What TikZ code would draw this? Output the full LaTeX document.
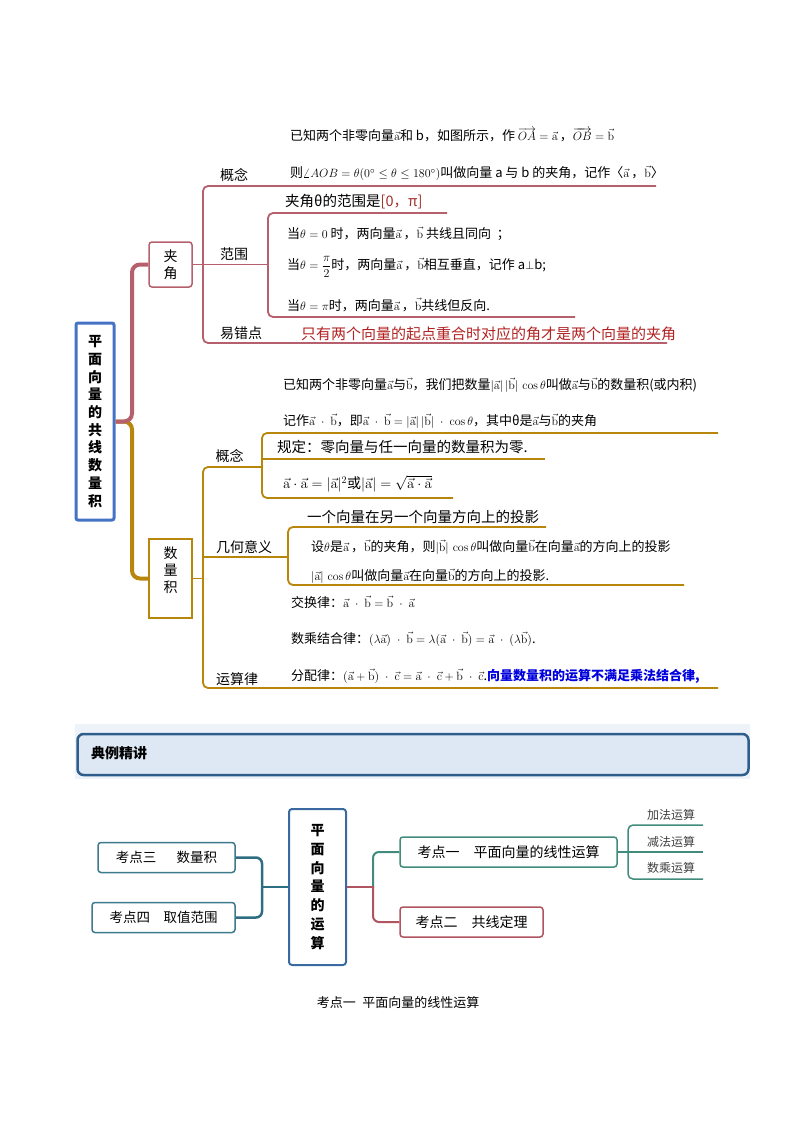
\documentclass[tikz,border=0pt]{standalone}
\usepackage{amsmath}
\usepackage[no-math]{fontspec}
\setmainfont{Noto Sans CJK SC}
\usetikzlibrary{positioning}

\definecolor{mappink}{HTML}{B5606C}
\definecolor{mapgold}{HTML}{B8860B}
\definecolor{rootblue}{HTML}{4472C4}
\definecolor{tipred}{HTML}{B22222}
\definecolor{rangered}{HTML}{A0302A}
\definecolor{textblue}{HTML}{0000DD}
\definecolor{bandline}{HTML}{2F5E8C}
\definecolor{bandfill}{HTML}{DDE8F4}
\definecolor{bandfade}{HTML}{EEF3F9}
\definecolor{cboxblue}{HTML}{3B6AA0}
\definecolor{leftteal}{HTML}{2E6E82}
\definecolor{boxteal}{HTML}{3D7A8C}
\definecolor{kgreen}{HTML}{418C7C}
\definecolor{kred}{HTML}{B05560}

\newcommand{\veca}{\vec{\mathrm{a}}}
\newcommand{\vecb}{\vec{\mathrm{b}}}
\newcommand{\vecc}{\vec{\mathrm{c}}}
\newcommand{\wdot}{\mathbin{\;\cdot\;}}

\begin{document}
\begin{tikzpicture}
  [x=1pt,y=-1pt,
  lbl/.style={font=\fontsize{14}{16}\selectfont},
  txt/.style={anchor=west,inner sep=0pt,font=\fontsize{13}{15}\selectfont},
  bigtxt/.style={anchor=west,inner sep=0pt,font=\fontsize{14.5}{16}\selectfont},
  pinkbr/.style={draw=mappink,line width=1.8pt,rounded corners=5pt},
  goldbr/.style={draw=mapgold,line width=1.8pt,rounded corners=5pt},
  pinkmain/.style={draw=mappink,line width=4pt,rounded corners=8pt},
  goldmain/.style={draw=mapgold,line width=4pt,rounded corners=8pt},
  topic/.style={draw,fill=white,line width=1.5pt,align=center,inner sep=0pt},
  kbox/.style={draw,fill=white,line width=1.5pt,rounded corners=3pt,minimum height=30pt,inner sep=0pt,font=\fontsize{14}{16}\selectfont},
  subop/.style={font=\fontsize{12}{14}\selectfont,text=black!75}]

  \useasboundingbox (0,0) rectangle (794,1123);

  % upper map
  \node[topic,draw=rootblue,line width=3pt,rounded corners=2pt,minimum width=38pt,minimum height=197pt,
    font=\fontsize{14}{17.7}\selectfont\bfseries] (root) at (95,421.5)
    {平\\面\\向\\量\\的\\共\\线\\数\\量\\积};
  \node[topic,draw=mappink,rounded corners=3pt,minimum width=43pt,minimum height=45pt,
    font=\fontsize{14}{16.5}\selectfont] (jiaj) at (170.5,264.5) {夹\\角};
  \node[topic,draw=mapgold,minimum width=43pt,minimum height=79pt] (slj) at (170.5,578.5) {};
  \node[align=center,inner sep=0pt,font=\fontsize{14}{17}\selectfont] (sljtext) at (170.5,570) {数\\量\\积};

  \draw[goldmain] (root.east) -| (132,578.5) -- (slj.west);
  \draw[pinkmain] (root.east) -| (132,264.5) -- (jiaj.west);

  \draw[pinkbr] (656,186) -| (203,343) -- (667,343);
  \draw[pinkbr] (jiaj.east) -- (268,264.5);
  \draw[pinkbr] (447,213) -| (268,317) -- (575,317);

  \node[lbl] (gn1) at (234,175) {概念};
  \node[lbl] (fw) at (234,254) {范围};
  \node[lbl] (ycd) at (241,333) {易错点};

  \node[txt] (t1) at (290,135) {已知两个非零向量$\veca$和 b，如图所示，作 $\overrightarrow{OA}=\veca$\,，$\overrightarrow{OB}=\vecb$};
  \node[txt] (t2) at (290,173) {则$\angle AOB=\theta(0^\circ\leq\theta\leq180^\circ)$叫做向量 a 与 b 的夹角，记作〈$\veca$\,，$\vecb$〉};
  \node[bigtxt] (t3) at (285,202) {夹角θ的范围是\textcolor{rangered}{[0，π]}};
  \node[txt] (t4) at (287,234) {当$\theta=0$ 时，两向量$\veca$\,，$\vecb$ 共线且同向\ \ ；};
  \node[txt] (t5) at (287,267) {当$\theta=\dfrac{\pi}{2}$时，两向量$\veca$\,，$\vecb$相互垂直，记作 a$\perp$b;};
  \node[txt] (t6) at (287,305) {当$\theta=\pi$时，两向量$\veca$\,，$\vecb$共线但反向.};
  \node[bigtxt,text=tipred,font=\fontsize{15}{17}\selectfont] (t7) at (301,334) {只有两个向量的起点重合时对应的角才是两个向量的夹角};

  \draw[goldbr] (262,467) -| (203,688) -- (718,688);
  \draw[goldbr] (slj.east) -- (203,578.5);
  \draw[goldbr] (203,557) -- (288,557);
  \draw[goldbr] (718,433) -| (262,498) -- (453,498);
  \draw[goldbr] (262,459) -- (545,459);
  \draw[goldbr] (546,527) -| (288,585) -- (684,585);

  \node[lbl] (gn2) at (229.5,456) {概念};
  \node[lbl] (jhyy) at (244,547) {几何意义};
  \node[lbl] (ysl) at (237,679) {运算律};

  \node[txt] (t8) at (283,385) {已知两个非零向量$\veca$与$\vecb$，我们把数量$|\veca|\,|\vecb|\,\cos\theta$叫做$\veca$与$\vecb$的数量积(或内积)};
  \node[txt] (t9) at (283,421) {记作$\veca\wdot\vecb$，即$\veca\wdot\vecb=|\veca|\,|\vecb|\wdot\cos\theta$，其中θ是$\veca$与$\vecb$的夹角};
  \node[bigtxt] (t10) at (277,447) {规定：零向量与任一向量的数量积为零.};
  \node[txt,font=\fontsize{14}{16}\selectfont] (t11) at (283,484) {$\veca\cdot\veca=|\veca|^2$或$|\veca|=\sqrt{\veca\cdot\veca}$};
  \node[bigtxt] (t12) at (307,517) {一个向量在另一个向量方向上的投影};
  \node[txt] (t13) at (311,547) {设$\theta$是$\veca$\,，$\vecb$的夹角，则$|\vecb|\,\cos\theta$叫做向量$\vecb$在向量$\veca$的方向上的投影};
  \node[txt] (t14) at (311,576) {$|\veca|\,\cos\theta$叫做向量$\veca$在向量$\vecb$的方向上的投影.};
  \node[txt] (t15) at (291,602) {交换律：$\veca\wdot\vecb=\vecb\wdot\veca$};
  \node[txt] (t16) at (291,639) {数乘结合律：$(\lambda\veca)\wdot\vecb=\lambda(\veca\wdot\vecb)=\veca\wdot(\lambda\vecb)$.};
  \node[txt] (t17) at (291,676) {分配律：$(\veca+\vecb)\wdot\vecc=\veca\wdot\vecc+\vecb\wdot\vecc$.\textcolor{textblue}{\bfseries 向量数量积的运算不满足乘法结合律,}};

  % banner
  \fill[bandfade] (75,724) rectangle (750,779);
  \node[draw=bandline,fill=bandfill,line width=2.5pt,rounded corners=6pt,
    minimum width=671pt,minimum height=41pt,inner sep=0pt] (band) at (413,754.5) {};
  \node[anchor=west,inner sep=0pt,font=\fontsize{14}{16}\selectfont\bfseries] (bandtext) at (91,753) {典例精讲};

  % lower map
  \node[topic,draw=cboxblue,line width=2pt,rounded corners=3pt,minimum width=57pt,minimum height=156pt,
    font=\fontsize{14}{18.7}\selectfont\bfseries] (cbox) at (317.5,887) {平\\面\\向\\量\\的\\运\\算};
  \node[kbox,draw=boxteal,minimum width=137pt,font=\fontsize{13.5}{16}\selectfont] (k3) at (166.5,857.5) {考点三\hspace{1.5em}数量积};
  \node[kbox,draw=boxteal,minimum width=143pt,font=\fontsize{13.5}{16}\selectfont] (k4) at (163.5,917.5) {考点四\hspace{1em}取值范围};
  \node[kbox,draw=kgreen,minimum width=217pt] (k1) at (508.5,852) {考点一\hspace{1em}平面向量的线性运算};
  \node[kbox,draw=kred,minimum width=143pt] (k2) at (471.5,922) {考点二\hspace{1em}共线定理};

  \draw[leftteal,line width=2.5pt,rounded corners=6pt] (k3.east) -| (262,917.5) -- (k4.east);
  \draw[leftteal,line width=2.5pt] (cbox.west) -- (262,887);
  \draw[kred,line width=2pt] (cbox.east) -- (373,887);
  \draw[kgreen,line width=2pt,rounded corners=6pt] (373,888) |- (k1.west);
  \draw[kred,line width=2pt,rounded corners=6pt] (373,886) |- (k2.west);

  \draw[kgreen,line width=1.5pt] (k1.east) -- (703,852);
  \draw[kgreen,line width=1.5pt,rounded corners=5pt] (703,825) -| (628,879) -- (703,879);

  \node[subop] (add) at (671,815) {加法运算};
  \node[subop] (sub) at (671,842) {减法运算};
  \node[subop] (mul) at (671,868) {数乘运算};

  \node[font=\fontsize{13}{15}\selectfont] (cap) at (398,1003) {考点一\enspace 平面向量的线性运算};

\end{tikzpicture}
\end{document}
